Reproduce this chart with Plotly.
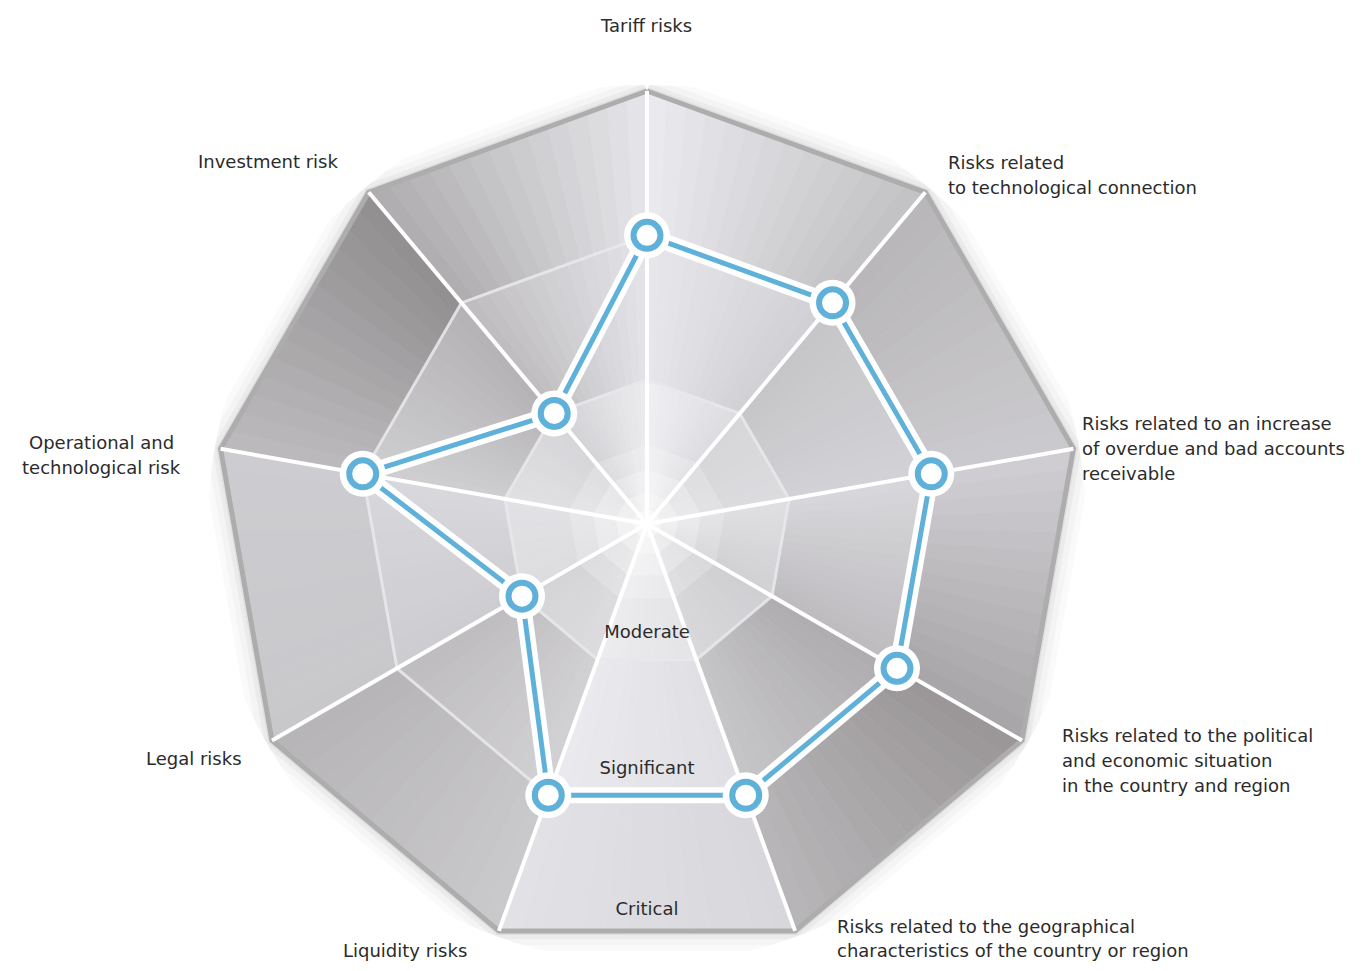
import math
import plotly.graph_objects as go

# ---------------- data ----------------
categories = [
    "Tariff risks",
    "Risks related<br>to technological connection",
    "Risks related to an increase<br>of overdue and bad accounts<br>receivable",
    "Risks related to the political<br>and economic situation<br>in the country and region",
    "Risks related to the geographical<br>characteristics of the country or region",
    "Liquidity risks",
    "Legal risks",
    "Operational and<br>technological risk",
    "Investment risk",
]
values = [2, 2, 2, 2, 2, 2, 1, 2, 1]
levels = ["Moderate", "Significant", "Critical"]
level_ticks = [1, 2, 3]

# ---------------- style ----------------
BLUE = "#5fb1da"
TEXT = "#2b2b2b"
FONT = "DejaVu Sans"
FSIZE = 18
LINE_GAP = 25

# facet shading (start colour at spoke k, end colour at spoke k+1) per band
band_colors = [
    # inner band
    [("#f0f0f3", "#dcdce0"), ("#d6d6d9", "#dcdcdf"), ("#e0e0e3", "#d0d0d3"),
     ("#cfced1", "#d8d8db"), ("#e4e4e7", "#ececef"), ("#dcdcdf", "#d4d4d7"),
     ("#dcdcdf", "#e2e2e5"), ("#e0e0e3", "#d6d6d9"), ("#d2d2d5", "#ececef")],
    # middle band
    [("#e8e8ec", "#d0cfd3"), ("#c6c5c8", "#d2d1d5"), ("#d8d8dc", "#bdbbbe"),
     ("#aeacae", "#c6c5c8"), ("#e0e0e4", "#eaeaee"), ("#d2d1d4", "#bebcbe"),
     ("#cdccd0", "#d8d8dc"), ("#cfced1", "#b4b2b4"), ("#bebcbf", "#e4e4e8")],
    # outer band
    [("#ebebef", "#c2c0c3"), ("#b8b6b8", "#cbcace"), ("#d0cfd3", "#a7a4a6"),
     ("#9a9698", "#b8b6b8"), ("#d8d7db", "#e2e2e6"), ("#cac9cb", "#b6b4b6"),
     ("#c8c7ca", "#cdccd0"), ("#bdbbbd", "#918e90"), ("#aeacae", "#e6e6ea")],
]

# page geometry: the browser body has an 8px margin
PAGE_W, PAGE_H = 1361, 971
OFF = 8
W, H = PAGE_W - 2 * OFF, PAGE_H - 2 * OFF

# label placement (page pixels: x anchor, y of first line centre)
label_pos = [
    dict(x=646, y=25, xanchor="center"),
    dict(x=946, y=162, xanchor="left"),
    dict(x=1080, y=423, xanchor="left"),
    dict(x=1060, y=735, xanchor="left"),
    dict(x=835, y=926, xanchor="left", gap=24),
    dict(x=405, y=950, xanchor="center"),
    dict(x=244, y=758, xanchor="right"),
    dict(x=102, y=442, xanchor="center"),
    dict(x=340, y=161, xanchor="right"),
]
level_r = [0.76, 1.70, 2.68]

CX, CY = 647 - OFF, 524 - OFF   # plate centre in figure px
R_OUT = 433                      # px radius of outer ring
RAD = H - CY                     # polar domain radius
RMAX = level_ticks[-1] * RAD / R_OUT


def hex2rgb(h):
    h = h.lstrip("#")
    return [int(h[i:i + 2], 16) for i in (0, 2, 4)]


def mix(c0, c1, t):
    a, b = hex2rgb(c0), hex2rgb(c1)
    return "rgb(%d,%d,%d)" % tuple(round(a[i] + (b[i] - a[i]) * t) for i in range(3))


def to_polar(x, y):
    r = math.hypot(x, y)
    th = math.degrees(math.atan2(x, y)) % 360
    return r, th


def chord_point(r, a0, a1, t):
    x0, y0 = r * math.sin(math.radians(a0)), r * math.cos(math.radians(a0))
    x1, y1 = r * math.sin(math.radians(a1)), r * math.cos(math.radians(a1))
    return to_polar(x0 + (x1 - x0) * t, y0 + (y1 - y0) * t)


n = len(categories)
angles = [i * 360.0 / n for i in range(n)]
ring_theta = angles + [angles[0]]

fig = go.Figure()

# soft shadow around the plate
for w, a in [(40, 0.018), (28, 0.025), (16, 0.035), (8, 0.05)]:
    fig.add_trace(go.Scatterpolar(
        r=[level_ticks[-1]] * (n + 1), theta=ring_theta, mode="lines",
        line=dict(color="rgba(0,0,0,%s)" % a, width=w), hoverinfo="skip", showlegend=False))

# shaded facets
SLICES = 14
bounds = [0] + level_ticks
for b in range(3):
    r_in, r_out = bounds[b], bounds[b + 1]
    for k in range(n):
        a0 = angles[k]
        a1 = angles[k + 1] if k + 1 < n else 360.0
        c0, c1 = band_colors[b][k]
        for j in range(SLICES):
            t0, t1 = j / SLICES, (j + 1) / SLICES
            pts = [chord_point(r_in, a0, a1, t0), chord_point(r_out, a0, a1, t0),
                   chord_point(r_out, a0, a1, t1), chord_point(r_in, a0, a1, t1)]
            pts.append(pts[0])
            col = mix(c0, c1, (t0 + t1) / 2)
            fig.add_trace(go.Scatterpolar(
                r=[p[0] for p in pts], theta=[p[1] for p in pts], mode="lines",
                fill="toself", fillcolor=col, line=dict(color=col, width=0.8),
                hoverinfo="skip", showlegend=False))

# central glow
for rr, op in [(0.55, 0.2), (0.38, 0.25), (0.22, 0.3), (0.1, 0.45)]:
    fig.add_trace(go.Scatterpolar(
        r=[rr] * (n + 1), theta=ring_theta, mode="lines", fill="toself",
        fillcolor="rgba(255,255,255,%s)" % op, line=dict(width=0),
        hoverinfo="skip", showlegend=False))

# ring highlights
for lv in level_ticks[:-1]:
    fig.add_trace(go.Scatterpolar(
        r=[lv] * (n + 1), theta=ring_theta, mode="lines",
        line=dict(color="rgba(232,232,236,0.9)", width=3), hoverinfo="skip", showlegend=False))

# outer rim
fig.add_trace(go.Scatterpolar(
    r=[level_ticks[-1]] * (n + 1), theta=ring_theta, mode="lines",
    line=dict(color="#adadad", width=5), hoverinfo="skip", showlegend=False))

# white spokes
sr, st = [], []
for a in angles:
    sr += [0, level_ticks[-1], None]
    st += [a, a, None]
fig.add_trace(go.Scatterpolar(r=sr, theta=st, mode="lines",
                              line=dict(color="white", width=4),
                              hoverinfo="skip", showlegend=False))

# data polygon
dr = values + [values[0]]
fig.add_trace(go.Scatterpolar(r=dr, theta=ring_theta, mode="lines",
                              line=dict(color="white", width=16),
                              hoverinfo="skip", showlegend=False))
fig.add_trace(go.Scatterpolar(r=dr, theta=ring_theta, mode="lines",
                              line=dict(color=BLUE, width=5),
                              hoverinfo="skip", showlegend=False))
fig.add_trace(go.Scatterpolar(r=values, theta=angles, mode="markers",
                              marker=dict(size=46, color="white"),
                              hoverinfo="skip", showlegend=False, cliponaxis=False))
fig.add_trace(go.Scatterpolar(r=values, theta=angles, mode="markers",
                              marker=dict(size=27, color="white",
                                          line=dict(color=BLUE, width=6)),
                              text=[c.replace("<br>", " ") for c in categories],
                              hovertemplate="%{text}: %{r}<extra></extra>",
                              showlegend=False, cliponaxis=False))

# level labels
fig.add_trace(go.Scatterpolar(r=level_r, theta=[180] * 3, mode="text", text=levels,
                              textfont=dict(family=FONT, size=FSIZE, color=TEXT),
                              hoverinfo="skip", showlegend=False, cliponaxis=False))

annotations = []
for lab, p in zip(categories, label_pos):
    gap = p.get("gap", LINE_GAP)
    for i, line in enumerate(lab.split("<br>")):
        annotations.append(dict(
            text=line, x=(p["x"] - OFF) / W, y=1 - (p["y"] - OFF + i * gap) / H,
            xref="paper", yref="paper", xanchor=p["xanchor"], yanchor="middle",
            showarrow=False, font=dict(family=FONT, size=FSIZE, color=TEXT)))

fig.update_layout(
    width=W, height=H,
    margin=dict(l=0, r=0, t=0, b=0),
    paper_bgcolor="white", plot_bgcolor="white",
    showlegend=False,
    annotations=annotations,
    polar=dict(
        domain=dict(x=[(CX - RAD) / W, (CX + RAD) / W],
                    y=[(H - CY - RAD) / H, min(1.0, (H - CY + RAD) / H)]),
        bgcolor="rgba(0,0,0,0)",
        radialaxis=dict(range=[0, RMAX], visible=False, showgrid=False),
        angularaxis=dict(rotation=90, direction="clockwise", thetaunit="degrees",
                         visible=False, showgrid=False, showline=False,
                         showticklabels=False, ticks=""),
    ),
)

fig.write_html("out.html")
